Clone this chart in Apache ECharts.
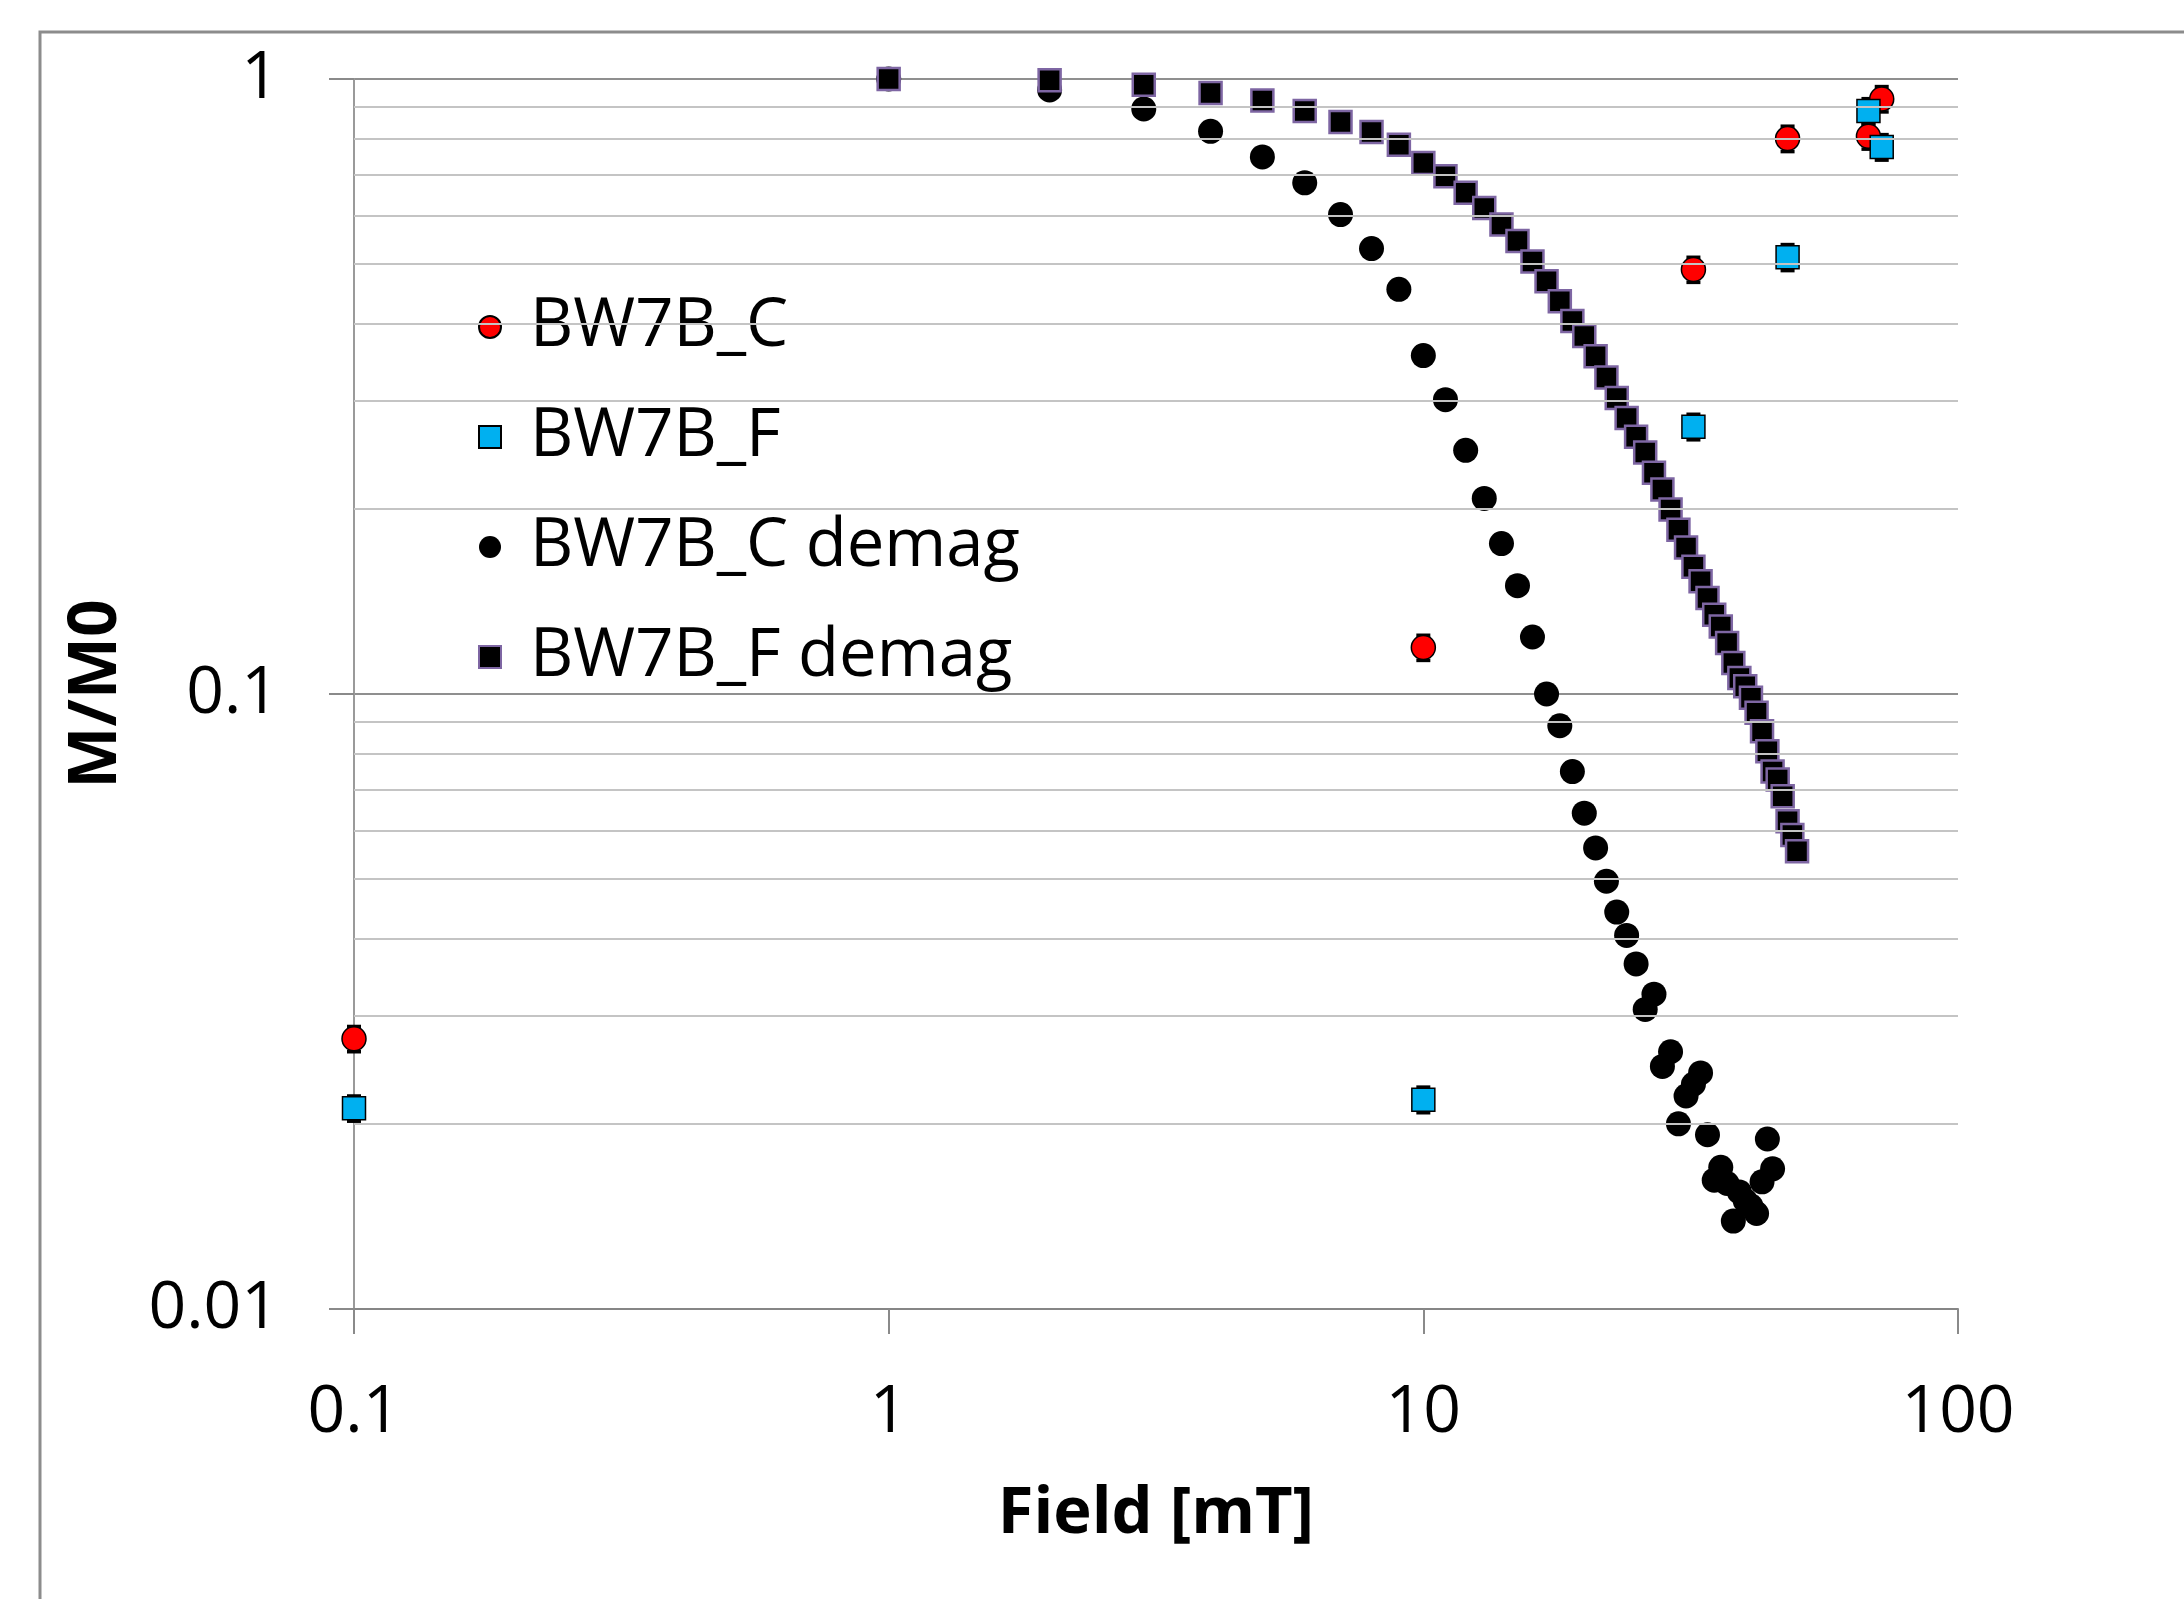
<!DOCTYPE html>
<html>
<head>
<meta charset="utf-8">
<script src="https://cdn.jsdelivr.net/npm/echarts@6/dist/echarts.min.js"></script>
<style>
  html, body { margin: 0; padding: 0; background: #fff; }
  #chart { width: 2184px; height: 1599px; }
</style>
</head>
<body>
<div id="chart"></div>
<script>
// Remanence measurements (field in mT, normalised moment M/M0)
const fieldC = [0.1, 10, 32, 48, 68, 72];
const momentC = [0.0275, 0.119, 0.49, 0.800, 0.807, 0.928];
const errC = [0.0013, 0.0056, 0.023, 0.038, 0.038, 0.044];

const fieldF = [0.1, 10, 32, 48, 68, 72];
const momentF = [0.0212, 0.0219, 0.272, 0.513, 0.887, 0.775];
const errF = [0.0010, 0.00105, 0.013, 0.025, 0.042, 0.037];

// AF demagnetisation steps
const fieldCDemag = [1, 2, 3, 4, 5, 6, 7, 8, 9, 10, 11, 12, 13, 14, 15, 16, 17, 18, 19, 20,
  21, 22, 23, 24, 25, 26, 27, 28, 29, 30, 31, 32, 33, 34, 35, 36, 37, 38, 39, 40,
  41, 42, 43, 44, 45];
const momentCDemag = [1.0, 0.960, 0.894, 0.822, 0.747, 0.678, 0.602, 0.530, 0.455, 0.355,
  0.301, 0.249, 0.208, 0.1756, 0.150, 0.1238, 0.100, 0.0888, 0.0748, 0.0640,
  0.0562, 0.0496, 0.0442, 0.0405, 0.0364, 0.0307, 0.0325, 0.0248, 0.0262, 0.0200,
  0.0222, 0.0232, 0.0242, 0.0192, 0.0162, 0.0170, 0.0160, 0.0139, 0.0155, 0.0150,
  0.0147, 0.0143, 0.0161, 0.0189, 0.0169];

const fieldFDemag = [1, 2, 3, 4, 5, 6, 7, 8, 9, 10, 11, 12, 13, 14, 15, 16, 17, 18, 19, 20,
  21, 22, 23, 24, 25, 26, 27, 28, 29, 30, 31, 32, 33, 34, 35, 36, 37, 38, 39, 40,
  41, 42, 43, 44, 45, 46, 47, 48, 49, 50];
const momentFDemag = [1.0, 0.995, 0.979, 0.949, 0.923, 0.887, 0.851, 0.820, 0.782, 0.730,
  0.695, 0.653, 0.617, 0.580, 0.545, 0.505, 0.469, 0.435, 0.404, 0.382,
  0.354, 0.327, 0.303, 0.281, 0.262, 0.247, 0.229, 0.215, 0.1995, 0.185,
  0.173, 0.161, 0.1525, 0.1433, 0.1346, 0.1288, 0.121, 0.1123, 0.1062, 0.1029,
  0.0986, 0.0932, 0.087, 0.0807, 0.0748, 0.0726, 0.0682, 0.0621, 0.059, 0.0555];

// Intermediate decade values for the light horizontal grid
const minorGridValues = [0.02, 0.03, 0.04, 0.05, 0.06, 0.07, 0.08, 0.09,
  0.2, 0.3, 0.4, 0.5, 0.6, 0.7, 0.8, 0.9];

const seriesNames = ['BW7B_C', 'BW7B_F', 'BW7B_C demag', 'BW7B_F demag'];

const FONT = '"Open Sans", Lato, sans-serif';

function pairs(xs, ys) { return xs.map((x, i) => [x, ys[i]]); }
function errRows(xs, ys, es) { return xs.map((x, i) => [x, ys[i] - es[i], ys[i] + es[i]]); }

function renderErrorBar(params, api) {
  const x = api.value(0);
  const lo = api.coord([x, api.value(1)]);
  const hi = api.coord([x, api.value(2)]);
  const w = 7;
  const st = { stroke: '#000', lineWidth: 3.5 };
  return {
    type: 'group',
    children: [
      { type: 'line', shape: { x1: lo[0], y1: lo[1], x2: hi[0], y2: hi[1] }, style: { stroke: '#000', lineWidth: 2 } },
      { type: 'line', shape: { x1: lo[0] - w, y1: lo[1], x2: lo[0] + w, y2: lo[1] }, style: st },
      { type: 'line', shape: { x1: hi[0] - w, y1: hi[1], x2: hi[0] + w, y2: hi[1] }, style: st }
    ]
  };
}

const tickText = v => String(+Number(v).toPrecision(3));

const chart = echarts.init(document.getElementById('chart'), null, { renderer: 'canvas' });

chart.setOption({
  animation: false,
  backgroundColor: '#ffffff',
  textStyle: { fontFamily: FONT },
  graphic: [{
    type: 'rect',
    z: -10,
    shape: { x: 40, y: 32, width: 2400, height: 1800 },
    style: { fill: 'none', stroke: '#8c8c8c', lineWidth: 3 }
  }],
  grid: { left: 354, right: 226, top: 79, bottom: 290, containLabel: false },
  legend: {
    data: seriesNames,
    orient: 'vertical',
    left: 478,
    top: 292,
    padding: 0,
    itemGap: 40,
    itemWidth: 22,
    itemHeight: 22,
    textStyle: { fontFamily: FONT, fontSize: 67, color: '#000', lineHeight: 70, padding: [0, 0, 0, 24] }
  },
  xAxis: {
    type: 'log',
    logBase: 10,
    min: 0.1,
    max: 100,
    interval: 1,
    name: 'Field [mT]',
    nameLocation: 'middle',
    nameGap: 173,
    nameTextStyle: { fontFamily: FONT, fontSize: 65, fontWeight: 'bold', color: '#000' },
    axisLine: { show: true, lineStyle: { color: '#868686', width: 2 } },
    axisTick: { show: true, inside: false, length: 25, lineStyle: { color: '#8a8a8a', width: 2 } },
    axisLabel: { margin: 71, fontFamily: FONT, fontSize: 66, color: '#000', formatter: tickText },
    splitLine: { show: false },
    minorTick: { show: false }
  },
  yAxis: {
    type: 'log',
    logBase: 10,
    min: 0.01,
    max: 1,
    interval: 1,
    name: 'M/M0',
    nameLocation: 'middle',
    nameGap: 224,
    nameTextStyle: { fontFamily: FONT, fontSize: 66, fontWeight: 'bold', color: '#000' },
    axisLine: { show: true, lineStyle: { color: '#9a9a9a', width: 2 } },
    axisTick: { show: true, inside: false, length: 25, lineStyle: { color: '#8a8a8a', width: 2 } },
    axisLabel: { margin: 75, fontFamily: FONT, fontSize: 66, color: '#000', formatter: tickText },
    splitLine: { show: true, lineStyle: { color: '#8f8f8f', width: 2 } }
  },
  series: [
    {
      // light grid lines at 2..9 of each decade
      type: 'scatter',
      name: 'grid',
      data: [],
      silent: true,
      z: 1,
      markLine: {
        silent: true,
        symbol: 'none',
        label: { show: false },
        lineStyle: { color: '#c4c4c4', width: 2, type: 'solid' },
        emphasis: { disabled: true },
        animation: false,
        data: minorGridValues.map(v => ({ yAxis: v }))
      }
    },
    {
      type: 'custom',
      name: 'errC',
      silent: true,
      z: 2,
      renderItem: renderErrorBar,
      encode: { x: 0, y: [1, 2] },
      data: errRows(fieldC, momentC, errC)
    },
    {
      type: 'custom',
      name: 'errF',
      silent: true,
      z: 2,
      renderItem: renderErrorBar,
      encode: { x: 0, y: [1, 2] },
      data: errRows(fieldF, momentF, errF)
    },
    {
      type: 'scatter',
      name: seriesNames[0],
      z: 3,
      symbol: 'circle',
      symbolSize: 24,
      itemStyle: { color: '#ff0000', borderColor: '#000', borderWidth: 1.5, opacity: 1 },
      data: pairs(fieldC, momentC)
    },
    {
      type: 'scatter',
      name: seriesNames[1],
      z: 3,
      symbol: 'rect',
      symbolSize: 23,
      itemStyle: { color: '#00b0f0', borderColor: '#000', borderWidth: 1.5, opacity: 1 },
      data: pairs(fieldF, momentF)
    },
    {
      type: 'scatter',
      name: seriesNames[2],
      z: 3,
      symbol: 'circle',
      symbolSize: 25,
      itemStyle: { color: '#000', opacity: 1 },
      data: pairs(fieldCDemag, momentCDemag)
    },
    {
      type: 'scatter',
      name: seriesNames[3],
      z: 4,
      symbol: 'rect',
      symbolSize: 22,
      itemStyle: { color: '#000', borderColor: '#7e66a3', borderWidth: 2.5, opacity: 1 },
      data: pairs(fieldFDemag, momentFDemag)
    }
  ]
});
</script>
</body>
</html>
